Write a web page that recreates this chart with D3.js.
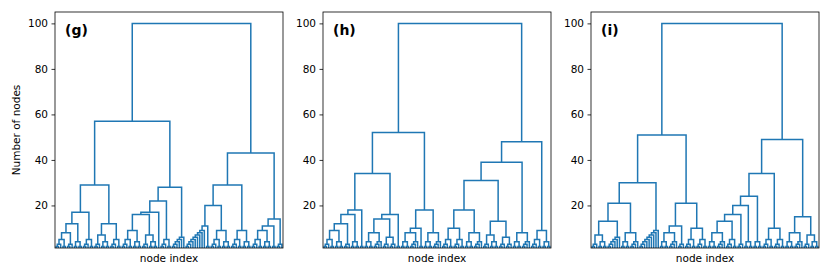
<!DOCTYPE html>
<html>
<head>
<meta charset="utf-8">
<script src="https://cdn.jsdelivr.net/npm/d3@7"></script>
<style>
  body { margin: 0; background: #fff; }
  text { font-family: "DejaVu Sans", sans-serif; }
</style>
</head>
<body>
<div id="chart"></div>
<script>
// Small subtree shapes ("x" = one node, "(ab)" = merge of a and b)
const t2 = "(xx)";
const t3 = "((xx)x)";
const t4 = "((xx)(xx))";
const t5 = "(((xx)x)(xx))";
const t6 = "(((xx)x)((xx)x))";
const t6s = "(((((xx)x)x)x)x)";
const t7 = "(((xx)x)((xx)(xx)))";
const t8 = "(((xx)(xx))(((xx)x)x))";
const t9 = "((((xx)x)(xx))((xx)(xx)))";
const stair9 = "((((((((xx)x)x)x)x)x)x)x)";

// Panel (g)
const gLeft = `(((((${t5}${t3})${t4})${t5})(${t7}${t5}))((((${t9}${t7})x)${t5})${t6s}))`;
const gRight = `((((${stair9}${t2})${t9})${t9})((${t9}${t2})${t3}))`;
// Panel (h)
const hLeft = `((((((${t5}${t4})${t3})${t4})${t2})((${t8}${t6})${t2}))((${t8}${t2})${t8}))`;
const hRight = `(((((${t5}${t5})${t8})(${t7}${t6}))${t8})(${t5}${t4}))`;
// Panel (i)
const iLeft = `((((${t7}${t6s})${t8})${stair9})((${t8}${t3})(${t5}${t5})))`;
const iRight = `((((((${t8}${t5})${t3})${t4})${t4})(${t5}${t5}))(${t8}${t7}))`;

const panelLabels = ["(g)", "(h)", "(i)"];
const panelTrees = [`(${gLeft}${gRight})`, `(${hLeft}${hRight})`, `(${iLeft}${iRight})`];
const yTicks = [20, 40, 60, 80, 100];

const width = 830;
const height = 277;
const panelLeft = [55, 323, 591];
const panelWidth = 228;
const plotTop = 12;
const plotBottom = 248;
const blue = "#1f77b4";

const svg = d3.select("#chart").append("svg")
  .attr("width", width)
  .attr("height", height);

const y = d3.scaleLinear().domain([1.3, 105]).range([plotBottom, plotTop]);
const x = d3.scaleLinear().domain([0, 1000]).range([0, panelWidth]);

function parseTree(s) {
  let i = 0;
  function node() {
    if (i >= s.length) throw new Error("bad tree string");
    if (s[i] === "x") { i++; return {}; }
    i++;
    const kids = [node(), node()];
    i++;
    return { children: kids };
  }
  return node();
}

panelTrees.forEach((str, p) => {
  const g = svg.append("g").attr("transform", `translate(${panelLeft[p]},0)`);

  g.append("clipPath").attr("id", "clip" + p)
    .append("rect").attr("x", 0).attr("y", plotTop)
    .attr("width", panelWidth).attr("height", plotBottom - plotTop);

  // height of a merge = number of nodes below it
  const root = d3.hierarchy(parseTree(str)).count();
  let idx = 0;
  root.eachAfter(d => {
    if (!d.children) {
      d.px = 5 + 10 * idx++;
      d.py = 0;
    } else {
      d.px = (d.children[0].px + d.children[1].px) / 2;
      d.py = d.value;
    }
  });

  const links = root.descendants().filter(d => d.children);
  g.append("g").attr("clip-path", `url(#clip${p})`)
    .selectAll("path")
    .data(links)
    .join("path")
    .attr("fill", "none")
    .attr("stroke", blue)
    .attr("stroke-width", 1.5)
    .attr("d", d => {
      const [a, b] = d.children;
      return `M${x(a.px)},${y(a.py)}V${y(d.py)}H${x(b.px)}V${y(b.py)}`;
    });

  // y axis
  const yAxis = g.append("g")
    .call(d3.axisLeft(y).tickValues(yTicks).tickSize(3.5).tickPadding(3.5));
  yAxis.select(".domain").remove();
  yAxis.selectAll("line").attr("stroke", "#000").attr("stroke-width", 0.8);
  yAxis.selectAll("text").attr("font-size", 10.5).attr("fill", "#000")
    .style("font-family", "DejaVu Sans");

  // frame
  g.append("rect")
    .attr("x", 0).attr("y", plotTop)
    .attr("width", panelWidth).attr("height", plotBottom - plotTop)
    .attr("fill", "none").attr("stroke", "#000").attr("stroke-width", 0.8);

  g.append("text")
    .attr("x", 10).attr("y", 35)
    .attr("font-size", 14).attr("font-weight", "bold")
    .text(panelLabels[p]);

  g.append("text")
    .attr("x", panelWidth / 2).attr("y", 262)
    .attr("text-anchor", "middle")
    .attr("font-size", 10.5)
    .text("node index");
});

svg.append("text")
  .attr("transform", "rotate(-90)")
  .attr("x", -130).attr("y", 20)
  .attr("text-anchor", "middle")
  .attr("font-size", 10.5)
  .text("Number of nodes");
</script>
</body>
</html>
